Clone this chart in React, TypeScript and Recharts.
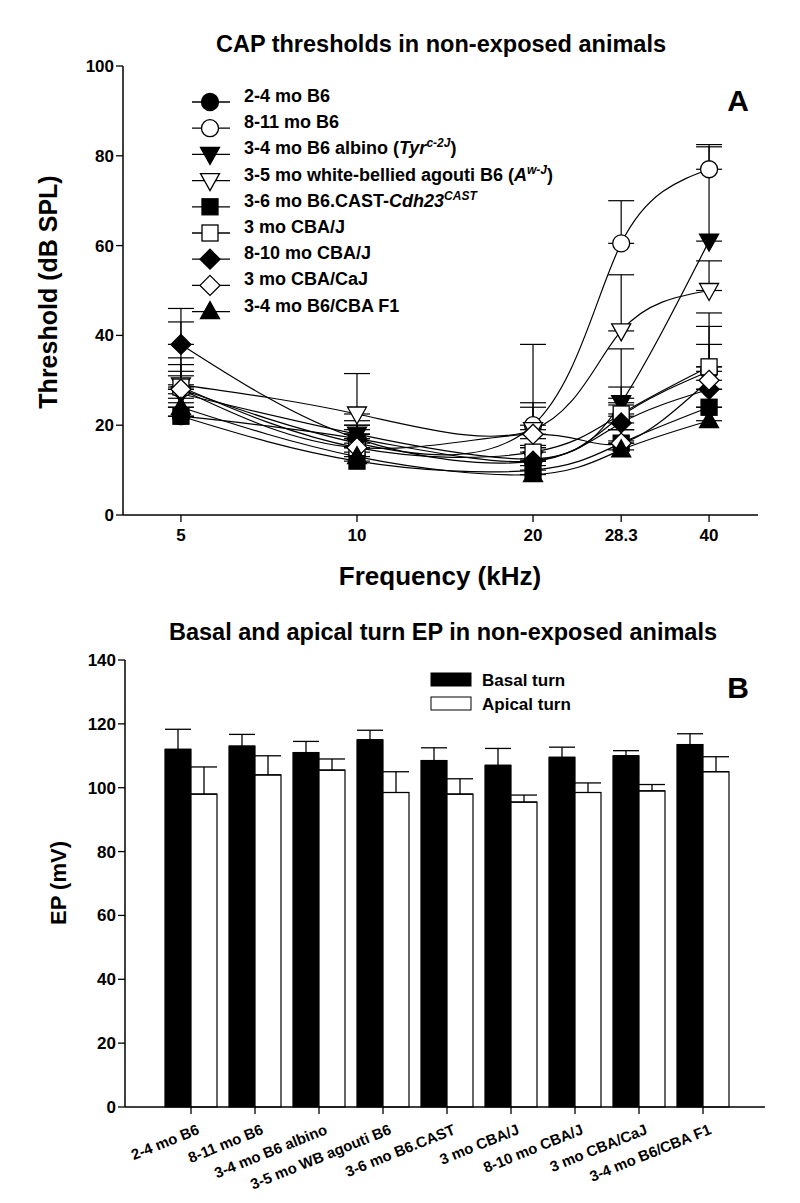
import React from "react"
import { LineChart, Line, XAxis, YAxis, ErrorBar, Legend, BarChart, Bar } from "recharts"

const FONT = '"Liberation Sans", Arial, sans-serif'

// Panel A: CAP thresholds (dB SPL) per frequency
const frequencies = [5, 10, 20, 28.3, 40]
const freqTicks = [5, 10, 20, 28.3, 40]

const b6Young = [22, 17, 12, 22, 32]
const b6YoungErr = [3, 3, 3, 4, 10]
const b6Old = [28, 16, 20, 60.5, 77]
const b6OldErr = [15, 3, 18, 9.5, 5.5]
const b6Albino = [27, 18, 12.5, 25, 61]
const b6AlbinoErr = [4, 3, 3, 12, 21]
const b6Agouti = [29, 22.5, 19, 41, 50]
const b6AgoutiErr = [6, 9, 6, 12.5, 6.6]
const b6Cast = [22, 12, 10, 16, 24]
const b6CastErr = [2, 2, 2, 3, 4]
const cbaYoung = [28.5, 15, 14, 22.5, 33]
const cbaYoungErr = [5, 3, 3, 6, 12]
const cbaOld = [38, 17, 12, 20.5, 28]
const cbaOldErr = [8, 3, 3, 4, 5]
const cbaCaJ = [28, 15, 18, 16, 30]
const cbaCaJErr = [4, 3, 6, 3, 8]
const f1Hybrid = [24, 13, 9, 14.5, 21]
const f1HybridErr = [2, 2, 2, 2, 3]

type Part = { t: string; i?: boolean; sup?: boolean }

const series = [
  { key: "b6Young", values: b6Young, errors: b6YoungErr, shape: "circle", filled: true, label: [{ t: "2-4 mo B6" }] },
  { key: "b6Old", values: b6Old, errors: b6OldErr, shape: "circle", filled: false, label: [{ t: "8-11 mo B6" }] },
  {
    key: "b6Albino", values: b6Albino, errors: b6AlbinoErr, shape: "down", filled: true,
    label: [{ t: "3-4 mo B6 albino (" }, { t: "Tyr", i: true }, { t: "c-2J", sup: true }, { t: ")" }],
  },
  {
    key: "b6Agouti", values: b6Agouti, errors: b6AgoutiErr, shape: "down", filled: false,
    label: [{ t: "3-5 mo white-bellied agouti B6 (" }, { t: "A", i: true }, { t: "w-J", sup: true }, { t: ")" }],
  },
  {
    key: "b6Cast", values: b6Cast, errors: b6CastErr, shape: "square", filled: true,
    label: [{ t: "3-6 mo B6.CAST-" }, { t: "Cdh23", i: true }, { t: "CAST", sup: true }],
  },
  { key: "cbaYoung", values: cbaYoung, errors: cbaYoungErr, shape: "square", filled: false, label: [{ t: "3 mo CBA/J" }] },
  { key: "cbaOld", values: cbaOld, errors: cbaOldErr, shape: "diamond", filled: true, label: [{ t: "8-10 mo CBA/J" }] },
  { key: "cbaCaJ", values: cbaCaJ, errors: cbaCaJErr, shape: "diamond", filled: false, label: [{ t: "3 mo CBA/CaJ" }] },
  { key: "f1Hybrid", values: f1Hybrid, errors: f1HybridErr, shape: "up", filled: true, label: [{ t: "3-4 mo B6/CBA F1" }] },
]

const capData = frequencies.map((f, i) => {
  const row: Record<string, any> = { freq: f }
  series.forEach((s) => {
    row[s.key] = s.values[i]
    row[s.key + "Err"] = [0, s.errors[i]]
  })
  return row
})

// Panel B: endocochlear potential (mV)
const strains = [
  "2-4 mo B6",
  "8-11 mo B6",
  "3-4 mo B6 albino",
  "3-5 mo WB agouti B6",
  "3-6 mo B6.CAST",
  "3 mo CBA/J",
  "8-10 mo CBA/J",
  "3 mo CBA/CaJ",
  "3-4 mo B6/CBA F1",
]
const basalTurn = [112, 113, 111, 115, 108.5, 107, 109.5, 110, 113.5]
const basalTurnErr = [6.3, 3.7, 3.5, 3, 4, 5.3, 3.2, 1.6, 3.4]
const apicalTurn = [98, 104, 105.5, 98.5, 98, 95.5, 98.5, 99, 105]
const apicalTurnErr = [8.5, 6, 3.5, 6.5, 4.8, 2.2, 3, 2, 4.7]

const epData = strains.map((name, i) => ({
  name,
  basal: basalTurn[i],
  basalErr: [0, basalTurnErr[i]],
  apical: apicalTurn[i],
  apicalErr: [0, apicalTurnErr[i]],
}))

function Marker({ cx, cy, shape, filled }: { cx: number; cy: number; shape: string; filled: boolean }) {
  const common = { fill: filled ? "#000" : "#fff", stroke: "#000", strokeWidth: 1.3 }
  if (shape === "circle") return <circle cx={cx} cy={cy} r={8.5} {...common} />
  if (shape === "square") return <rect x={cx - 8} y={cy - 8} width={16} height={16} {...common} />
  if (shape === "diamond")
    return <polygon points={`${cx},${cy - 10} ${cx + 10},${cy} ${cx},${cy + 10} ${cx - 10},${cy}`} {...common} />
  if (shape === "down")
    return <polygon points={`${cx - 9.5},${cy - 7} ${cx + 9.5},${cy - 7} ${cx},${cy + 10}`} {...common} />
  return <polygon points={`${cx - 9.5},${cy + 7} ${cx + 9.5},${cy + 7} ${cx},${cy - 10}`} {...common} />
}

const tickStyle = { fill: "#000", fontSize: 17, fontWeight: "bold", fontFamily: FONT }

function CapLegend() {
  return (
    <svg width={400} height={250} style={{ overflow: "visible" }}>
      {series.map((s, i) => {
        const y = 14 + i * 26.2
        return (
          <g key={s.key}>
            <line x1={7} x2={45} y1={y} y2={y} stroke="#000" strokeWidth={1.3} />
            <Marker cx={25} cy={y} shape={s.shape} filled={s.filled} />
            <text x={59} y={y} dy="0.36em" fontFamily={FONT} fontWeight="bold" fontSize={18} fill="#000">
              {(s.label as Part[]).map((p, j) => {
                const prev = j > 0 && (s.label as Part[])[j - 1].sup
                return (
                  <tspan
                    key={j}
                    fontStyle={p.i || p.sup ? "italic" : "normal"}
                    fontSize={p.sup ? 12 : 18}
                    dy={p.sup ? -7 : prev ? 7 : 0}
                  >
                    {p.t}
                  </tspan>
                )
              })}
            </text>
          </g>
        )
      })}
    </svg>
  )
}

function EpLegend() {
  return (
    <svg width={200} height={50}>
      <rect x={1} y={4} width={40} height={13} fill="#000" stroke="#000" />
      <text x={52} y={10.5} dy="0.36em" fontFamily={FONT} fontWeight="bold" fontSize={17}>Basal turn</text>
      <rect x={1} y={28} width={40} height={13} fill="#fff" stroke="#000" />
      <text x={52} y={34.5} dy="0.36em" fontFamily={FONT} fontWeight="bold" fontSize={17}>Apical turn</text>
    </svg>
  )
}

function StrainTick({ x, y, payload }: any) {
  return (
    <g transform={`translate(${x},${y})`}>
      <text
        x={2}
        y={9}
        dy="0.71em"
        textAnchor="end"
        transform="rotate(-22)"
        fontFamily={FONT}
        fontWeight="bold"
        fontSize={15}
        fill="#000"
      >
        {payload.value}
      </text>
    </g>
  )
}

const axisLine = { stroke: "#000", strokeWidth: 1.5 }
const tickLine = { stroke: "#000", strokeWidth: 1.3 }

export default function App() {
  return (
    <div style={{ position: "absolute", left: 0, top: 0, width: 800, height: 1203, background: "#fff", fontFamily: FONT }}>
      <div style={{ position: "absolute", left: 0, top: 0 }}>
        <LineChart width={800} height={600} data={capData} margin={{ top: 66, right: 42, bottom: 45, left: 56 }}>
          <XAxis
            dataKey="freq"
            type="number"
            scale="log"
            domain={[3.98, 48.5]}
            ticks={freqTicks}
            allowDataOverflow
            height={40}
            tick={tickStyle}
            tickSize={7}
            tickMargin={7}
            axisLine={axisLine}
            tickLine={tickLine}
          />
          <XAxis
            xAxisId="top"
            dataKey="freq"
            type="number"
            scale="log"
            domain={[3.98, 48.5]}
            orientation="top"
            allowDataOverflow
            height={0}
            tick={false}
            tickLine={false}
            axisLine={axisLine}
          />
          <YAxis
            domain={[0, 100]}
            ticks={[0, 20, 40, 60, 80, 100]}
            width={67}
            tick={tickStyle}
            tickSize={7}
            axisLine={axisLine}
            tickLine={tickLine}
          />
          <YAxis
            yAxisId="right"
            orientation="right"
            domain={[0, 100]}
            width={0}
            tick={false}
            tickLine={false}
            axisLine={axisLine}
          />
          <Legend
            verticalAlign="middle"
            align="center"
            content={() => <CapLegend />}
            wrapperStyle={{ left: 185, top: 88, width: 400, height: 250 }}
          />
          {series.map((s) => (
            <Line
              key={s.key}
              dataKey={s.key}
              type="natural"
              stroke="#000"
              strokeWidth={1.2}
              isAnimationActive={false}
              activeDot={false}
              dot={(p: any) => <Marker key={`${s.key}-${p.index}`} cx={p.cx} cy={p.cy} shape={s.shape} filled={s.filled} />}
            >
              <ErrorBar dataKey={s.key + "Err"} direction="y" width={13} stroke="#000" strokeWidth={1.2} />
            </Line>
          ))}
        </LineChart>
      </div>

      <div style={{ position: "absolute", left: 0, top: 600 }}>
        <BarChart
          width={800}
          height={603}
          data={epData}
          barGap={0}
          barSize={26}
          margin={{ top: 60, right: 35, bottom: 36, left: 56 }}
        >
          <XAxis
            dataKey="name"
            padding={{ left: 34, right: 30 }}
            interval={0}
            height={60}
            tick={<StrainTick />}
            tickSize={7}
            axisLine={axisLine}
            tickLine={tickLine}
          />
          <XAxis
            xAxisId="top"
            dataKey="name"
            orientation="top"
            height={0}
            tick={false}
            tickLine={false}
            axisLine={axisLine}
          />
          <YAxis
            domain={[0, 140]}
            ticks={[0, 20, 40, 60, 80, 100, 120, 140]}
            width={69}
            tick={tickStyle}
            tickSize={7}
            axisLine={axisLine}
            tickLine={tickLine}
          />
          <YAxis
            yAxisId="right"
            orientation="right"
            domain={[0, 140]}
            width={0}
            tick={false}
            tickLine={false}
            axisLine={axisLine}
          />
          <Legend
            verticalAlign="middle"
            align="center"
            content={() => <EpLegend />}
            wrapperStyle={{ left: 430, top: 69, width: 200, height: 50 }}
          />
          <Bar dataKey="basal" fill="#000" stroke="#000" strokeWidth={1.2} isAnimationActive={false}>
            <ErrorBar dataKey="basalErr" direction="y" width={13} stroke="#000" strokeWidth={1.3} />
          </Bar>
          <Bar dataKey="apical" fill="#fff" stroke="#000" strokeWidth={1.2} isAnimationActive={false}>
            <ErrorBar dataKey="apicalErr" direction="y" width={13} stroke="#000" strokeWidth={1.3} />
          </Bar>
        </BarChart>
      </div>

      <svg
        width={800}
        height={1203}
        style={{ position: "absolute", left: 0, top: 0, pointerEvents: "none" }}
        fontFamily={FONT}
        fontWeight="bold"
      >
        <text x={441} y={44} dy="0.36em" textAnchor="middle" fontSize={23.5}>CAP thresholds in non-exposed animals</text>
        <text x={738} y={100} dy="0.36em" textAnchor="middle" fontSize={30}>A</text>
        <text x={0} y={0} dy="0.36em" textAnchor="middle" fontSize={25} transform="translate(48,292) rotate(-90)">
          Threshold (dB SPL)
        </text>
        <text x={440} y={576} dy="0.36em" textAnchor="middle" fontSize={26}>Frequency (kHz)</text>

        <text x={443} y={632} dy="0.36em" textAnchor="middle" fontSize={23.5}>Basal and apical turn EP in non-exposed animals</text>
        <text x={738} y={687} dy="0.36em" textAnchor="middle" fontSize={30}>B</text>
        <text x={0} y={0} dy="0.36em" textAnchor="middle" fontSize={22} transform="translate(58,883) rotate(-90)">
          EP (mV)
        </text>
      </svg>
    </div>
  )
}
